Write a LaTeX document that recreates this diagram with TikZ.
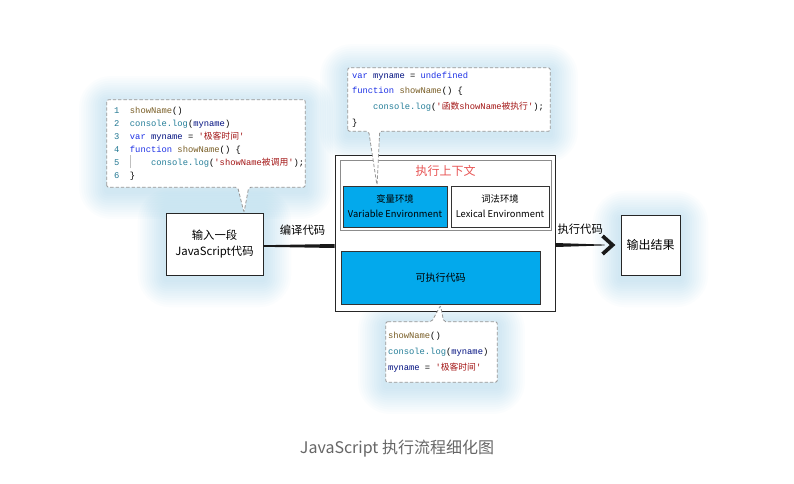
\documentclass[tikz,border=0pt]{standalone}
\usepackage{fontspec}
\setmainfont{Noto Sans CJK SC}
\setmonofont{Liberation Mono}
\newfontfamily\cjk{Noto Sans CJK SC}
\definecolor{jsblue}{RGB}{3,169,236}
\definecolor{ctxred}{RGB}{232,84,84}
\definecolor{glowblue}{RGB}{110,198,242}
\definecolor{bubblegray}{RGB}{150,150,150}
\definecolor{capgray}{RGB}{102,102,102}
\definecolor{cfun}{RGB}{121,94,38}
\definecolor{cobj}{RGB}{38,127,153}
\definecolor{ckey}{RGB}{30,50,230}
\definecolor{cvar}{RGB}{0,16,128}
\definecolor{cstr}{RGB}{163,21,21}
\definecolor{clnum}{RGB}{35,120,147}
\usetikzlibrary{arrows.meta,positioning,calc,backgrounds}

\newcommand{\jskw}[1]{\textcolor{ckey}{#1}}
\newcommand{\jsfn}[1]{\textcolor{cfun}{#1}}
\newcommand{\jsobj}[1]{\textcolor{cobj}{#1}}
\newcommand{\jsvar}[1]{\textcolor{cvar}{#1}}
\newcommand{\jsstr}[1]{\textcolor{cstr}{#1}}

\tikzset{
  sketchbox/.style={draw=black!85, line width=0.65pt, fill=white, align=center, inner sep=0pt},
  envbox/.style={draw=black!80, line width=0.55pt, align=center, inner sep=0pt, minimum height=30.75pt, font=\fontsize{7}{11.25}\selectfont},
  bubble/.style={draw=bubblegray, dash pattern=on 2.5pt off 1.5pt, line width=0.6pt, fill=white, rounded corners=1.5pt},
  codetext/.style={font=\fontsize{6.6}{9.7}\selectfont\ttfamily, align=left, inner sep=0pt, anchor=west},
  flowlbl/.style={font=\fontsize{8.5}{10}\selectfont, inner sep=0pt}
}

\begin{document}
\begin{tikzpicture}[x=0.75pt, y=-0.75pt]
  \useasboundingbox (0,0) rectangle (794,483);

  % boxes
  \node[sketchbox, minimum width=72.75pt, minimum height=46.5pt, font=\fontsize{8.5}{12}\selectfont] (input) at (214.5,244) {输入一段\\JavaScript代码};
  \node[sketchbox, minimum width=165pt, minimum height=117pt] (outer) at (445,233) {};
  \node[draw=black!45, line width=0.6pt, fill=white, minimum width=158.25pt, minimum height=52.5pt, inner sep=0pt] (ctx) at (445.5,195) {};
  \node[text=ctxred, font=\fontsize{9}{10}\selectfont, inner sep=0pt, below=4pt of ctx.north] (ctxtitle) {执行上下文};
  \node[envbox, fill=jsblue, minimum width=78pt] (varenv) at (395,206.5) {变量环境\\Variable Environment};
  \node[envbox, fill=white, minimum width=73.5pt] (lexenv) at (500,206.5) {词法环境\\Lexical Environment};
  \node[envbox, fill=jsblue, minimum width=149.25pt, minimum height=39.75pt, font=\fontsize{7.5}{9}\selectfont] (exec) at (440.5,277.5) {可执行代码};
  \node[sketchbox, minimum width=44.25pt, minimum height=45pt, font=\fontsize{9}{10}\selectfont] (output) at (650.5,245) {输出结果};

  % code bubbles
  \node[minimum width=148.5pt, minimum height=65.25pt, inner sep=0pt] (code1) at (206,143.5) {};
  \node[minimum width=151.5pt, minimum height=47.25pt, inner sep=0pt] (code2) at (449,99.5) {};
  \node[minimum width=83.25pt, minimum height=45pt, inner sep=0pt] (code3) at (441.5,352) {};

  \begin{scope}[on background layer]
    \fill[white] (0,0) rectangle (794,483);
    \foreach \n in {code1,code2,code3,input,output}
      \foreach \k in {1,...,12}
        \fill[glowblue, opacity=0.026, rounded corners=\k*2pt]
          ($(\n.north west)+(-2.3*\k,-2.3*\k+4)$) rectangle ($(\n.south east)+(2.3*\k,2.3*\k+4)$);
  \end{scope}

  \draw[bubble] (code1.south west) -- (code1.north west) -- (code1.north east) -- (code1.south east)
    -- ($(code1.south west)+(142,0)$) -- ($(input.north)+(29.5,0)$) -- ($(code1.south west)+(131,0)$) -- cycle;
  \draw[bubble] (code2.south west) -- (code2.north west) -- (code2.north east) -- (code2.south east)
    -- ($(code2.south west)+(32,0)$) -- ($(varenv.north)+(-18,0)$) -- ($(code2.south west)+(21,0)$) -- cycle;
  \draw[bubble] (code3.north west) -- ($(code3.north west)+(46,0)$) -- ($(exec.south)+(0,1)$) -- ($(code3.north west)+(58,0)$)
    -- (code3.north east) -- (code3.south east) -- (code3.south west) -- cycle;

  \node[codetext, right=5.25pt of code1.west] (src1) {%
    \textcolor{clnum}{1}\hspace{8pt}\jsfn{showName}()\\
    \textcolor{clnum}{2}\hspace{8pt}\jsobj{console.log}(\jsvar{myname})\\
    \textcolor{clnum}{3}\hspace{8pt}\jskw{var} \jsvar{myname} = \jsstr{'{\cjk 极客时间}'}\\
    \textcolor{clnum}{4}\hspace{8pt}\jskw{function} \jsfn{showName}() \{\\
    \textcolor{clnum}{5}\hspace{8pt}\rlap{\textcolor{black!25}{\rule[-2.2pt]{0.4pt}{9.7pt}}}\phantom{0000}\jsobj{console.log}(\jsstr{'showName{\cjk 被调用}'});\\
    \textcolor{clnum}{6}\hspace{8pt}\}};
  \node[codetext, font=\fontsize{6.6}{11.75}\selectfont\ttfamily, right=3pt of code2.west] (src2) {%
    \jskw{var} \jsvar{myname} = \jskw{undefined}\\
    \jskw{function} \jsfn{showName}() \{\\
    \phantom{0000}\jsobj{console.log}(\jsstr{'{\cjk 函数}showName{\cjk 被执行}'});\\
    \}};
  \node[codetext, font=\fontsize{6.6}{12}\selectfont\ttfamily, right=1.5pt of code3.west] (src3) {%
    \jsfn{showName}()\\
    \jsobj{console.log}(\jsvar{myname})\\
    \jsvar{myname} = \jsstr{'{\cjk 极客时间}'}};

  % arrows
  \fill[black!90] ($(input.east)+(0,1.2)$) -- (outer.west |- input.east) -- ($(outer.west |- input.east)+(0,4)$) -- ($(input.east)+(0,2.8)$) -- cycle;
  \coordinate (cmid) at ($(input.east)!.55!(outer.west |- input.east)+(0,2)$);
  \node[flowlbl, above=8pt of cmid] (compile) {编译代码};

  \coordinate (chev) at ($(output.west)+(-8,0)$);
  \fill[black!90] ($(outer.east |- output.west)+(0,-2)$) -- ($(chev)+(-8,-0.4)$) -- ($(chev)+(-8,0.4)$) -- ($(outer.east |- output.west)+(0,2)$) -- cycle;
  \draw[line width=2.8pt, black!90, line join=miter] ($(chev)+(-10,-9)$) -- (chev) -- ($(chev)+(-10,9)$);
  \coordinate (emid) at ($(outer.east |- output.west)!.38!(output.west)$);
  \node[flowlbl, above=8pt of emid] (run) {执行代码};

  \node[font=\fontsize{12}{14}\selectfont, text=capgray] (caption) at (397,449) {JavaScript 执行流程细化图};
\end{tikzpicture}
\end{document}
